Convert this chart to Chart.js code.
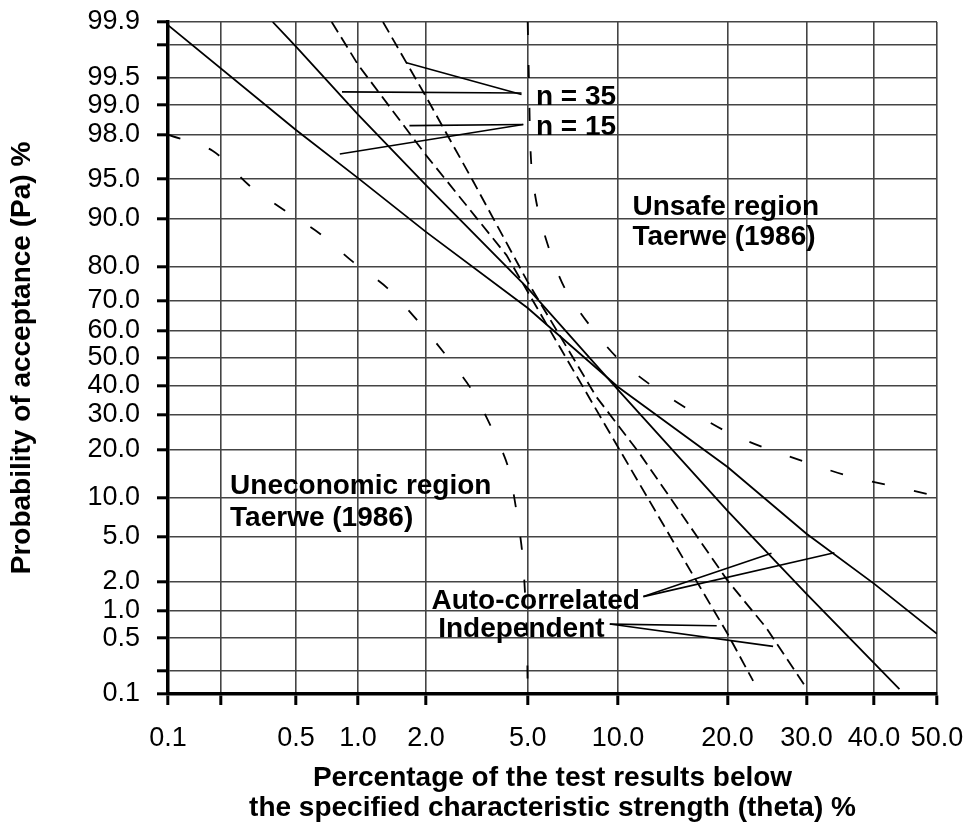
<!DOCTYPE html>
<html>
<head>
<meta charset="utf-8">
<script src="https://cdn.jsdelivr.net/npm/chart.js@4.4.1/dist/chart.umd.min.js"></script>
<style>
  html, body { margin: 0; padding: 0; background: #fff; }
  #wrap { width: 968px; height: 827px; }
</style>
</head>
<body>
<div id="wrap"><canvas id="chart" width="968" height="827"></canvas></div>
<script>
// OC curves on normal probability paper (both axes in %)

const xTicks = [0.1, 0.2, 0.5, 1, 2, 5, 10, 20, 30, 40, 50];
const yTicks = [0.1, 0.2, 0.5, 1, 2, 5, 10, 20, 30, 40, 50, 60, 70, 80, 90, 95, 98, 99, 99.5, 99.8, 99.9];
const unlabelled = [0.2, 99.8];

// auto-correlated (solid)
const autoN15X = [0.1, 0.5, 1, 2, 5, 10, 20, 30, 40, 50];
const autoN15Y = [99.89, 98.2, 95.1, 87.7, 67.7, 39.5, 15.8, 5.3, 1.9, 0.56];
const autoN35X = [0.38, 0.5, 1, 2, 5, 10, 20, 30, 44];
const autoN35Y = [99.9, 99.79, 98.74, 94.4, 74, 38.5, 8.0, 1.5, 0.116];

// independent (dashed)
const indN15X = [0.75, 1, 2, 4.18, 6.47, 10, 14.4, 20, 23];
const indN15Y = [99.9, 99.65, 96.9, 82.8, 54.1, 20.6, 4.66, 0.56, 0.149];
const indN35X = [1.3, 2, 3.12, 5, 8.56, 11.6, 20, 24.6, 30];
const indN35Y = [99.9, 99.19, 94.77, 75.8, 36.0, 19.0, 2.03, 0.66, 0.12];

// Taerwe (1986) region boundaries (long dashes)
const uneconX = [0.1, 0.18, 0.285, 0.44, 0.65, 0.95, 1.36, 1.85, 2.37, 3.05, 3.65, 4.22, 4.53, 4.77, 4.89, 4.97, 5.0];
const uneconY = [98.0, 97.17, 94.4, 91.2, 87.5, 81.1, 74.0, 63.3, 52.1, 39.0, 26.5, 16.2, 8.46, 3.83, 1.54, 0.5, 0.1];
const unsafeX = [5.0, 5.05, 5.15, 5.41, 5.94, 6.73, 8.09, 9.97, 12.4, 15.7, 19.6, 24.2, 29.6, 35.8, 42.3, 50];
const unsafeY = [99.9, 99.5, 96.3, 91.8, 84.4, 74.0, 62.2, 49.9, 40.5, 32.2, 25.3, 20.6, 17.1, 14.0, 12.1, 10.2];

// leader lines from the labels: [x, y] pairs
const leaders = [
  [[1.65, 99.67], [4.75, 99.23]],
  [[0.84, 99.28], [4.75, 99.26]],
  [[1.70, 98.37], [4.82, 98.41]],
  [[0.82, 96.97], [4.82, 98.41]],
  [[11.9, 1.41], [25.3, 3.62]],
  [[11.9, 1.41], [34.0, 3.67]],
  [[9.43, 0.72], [18.8, 0.69]],
  [[9.43, 0.72], [25.5, 0.40]]
];

const notes = [
  { text: 'n = 35', x: 5.35, y: 99.01 },
  { text: 'n = 15', x: 5.35, y: 98.0 },
  { text: 'Unsafe region', x: 11.05, y: 90.6 },
  { text: 'Taerwe (1986)', x: 11.05, y: 85.1 },
  { text: 'Uneconomic region', x: 0.225, y: 10.6 },
  { text: 'Taerwe (1986)', x: 0.225, y: 6.17 },
  { text: 'Auto-correlated', x: 2.11, y: 1.05 },
  { text: 'Independent', x: 2.25, y: 0.51 }
];

function probit(p) {
  const a = [-3.969683028665376e+01, 2.209460984245205e+02, -2.759285104469687e+02, 1.383577518672690e+02, -3.066479806614716e+01, 2.506628277459239e+00];
  const b = [-5.447609879822406e+01, 1.615858368580409e+02, -1.556989798598866e+02, 6.680131188771972e+01, -1.328068155288572e+01];
  const c = [-7.784894002430293e-03, -3.223964580411365e-01, -2.400758277161838e+00, -2.549732539343734e+00, 4.374664141464968e+00, 2.938163982698783e+00];
  const d = [7.784695709041462e-03, 3.224671290700398e-01, 2.445134137142996e+00, 3.754408661907416e+00];
  const plow = 0.02425;
  let q, r;
  if (p < plow) {
    q = Math.sqrt(-2 * Math.log(p));
    return (((((c[0]*q+c[1])*q+c[2])*q+c[3])*q+c[4])*q+c[5]) / ((((d[0]*q+d[1])*q+d[2])*q+d[3])*q+1);
  }
  if (p > 1 - plow) {
    q = Math.sqrt(-2 * Math.log(1 - p));
    return -(((((c[0]*q+c[1])*q+c[2])*q+c[3])*q+c[4])*q+c[5]) / ((((d[0]*q+d[1])*q+d[2])*q+d[3])*q+1);
  }
  q = p - 0.5;
  r = q * q;
  return (((((a[0]*r+a[1])*r+a[2])*r+a[3])*r+a[4])*r+a[5])*q / (((((b[0]*r+b[1])*r+b[2])*r+b[3])*r+b[4])*r+1);
}

function normCdf(z) {
  const t = 1 / (1 + 0.3275911 * Math.abs(z) / Math.SQRT2);
  const y = 1 - (((((1.061405429*t - 1.453152027)*t) + 1.421413741)*t - 0.284496736)*t + 0.254829592)*t * Math.exp(-z*z/2);
  return z >= 0 ? 0.5 * (1 + y) : 0.5 * (1 - y);
}

class ProbitScale extends Chart.Scale {
  determineDataLimits() {
    this.min = this.options.min;
    this.max = this.options.max;
  }
  buildTicks() {
    return this.options.tickValues.map(v => ({ value: v }));
  }
  configure() {
    super.configure();
    this._zStart = probit(this.min / 100);
    this._zRange = probit(this.max / 100) - this._zStart;
  }
  getLabelForValue(v) { return String(v); }
  getPixelForValue(v) {
    return this.getPixelForDecimal((probit(v / 100) - this._zStart) / this._zRange);
  }
  getPixelForTick(i) {
    return this.getPixelForValue(this.ticks[i].value);
  }
  getValueForPixel(px) {
    return 100 * normCdf(this._zStart + this.getDecimalForPixel(px) * this._zRange);
  }
}
ProbitScale.id = 'probit';
ProbitScale.defaults = {};
Chart.register(ProbitScale);

const pts = (xs, ys) => xs.map((x, i) => ({ x, y: ys[i] }));
const family = '"Liberation Sans", Arial, sans-serif';
Chart.defaults.font.family = family;
Chart.defaults.color = '#000';

const datasets = [
  { data: pts(autoN15X, autoN15Y), borderWidth: 1.8 },
  { data: pts(autoN35X, autoN35Y), borderWidth: 1.8 },
  { data: pts(indN15X, indN15Y), borderWidth: 1.8, borderDash: [12, 6] },
  { data: pts(indN35X, indN35Y), borderWidth: 1.8, borderDash: [12, 6] },
  { data: pts(uneconX, uneconY), borderWidth: 1.8, borderDash: [13, 30], tension: 0.3 },
  { data: pts(unsafeX, unsafeY), borderWidth: 1.8, borderDash: [13, 30], tension: 0.3 }
].concat(leaders.map(l => ({ data: l.map(p => ({ x: p[0], y: p[1] })), borderWidth: 1.6 })));

datasets.forEach(ds => {
  ds.borderColor = '#000';
  ds.pointRadius = 0;
  ds.fill = false;
  if (ds.tension === undefined) ds.tension = 0;
});

const notesPlugin = {
  id: 'notes',
  afterDatasetsDraw(chart) {
    const { ctx, scales: { x, y } } = chart;
    ctx.save();
    ctx.fillStyle = '#000';
    ctx.font = 'bold 28px ' + family;
    ctx.textAlign = 'left';
    ctx.textBaseline = 'alphabetic';
    notes.forEach(n => ctx.fillText(n.text, x.getPixelForValue(n.x), y.getPixelForValue(n.y)));
    ctx.restore();
  }
};

const tickLabel = v => unlabelled.includes(v) ? '' : v.toFixed(1);
const gridStyle = { color: '#444', lineWidth: 1.6, tickColor: '#000', tickWidth: 3, tickLength: 11 };

new Chart(document.getElementById('chart'), {
  type: 'line',
  data: { datasets },
  plugins: [notesPlugin],
  options: {
    responsive: false,
    animation: false,
    layout: { padding: { left: 0, top: 22, right: 31, bottom: 0 } },
    plugins: { legend: { display: false }, tooltip: { enabled: false } },
    scales: {
      x: {
        type: 'probit',
        position: 'bottom',
        min: 0.1,
        max: 50,
        tickValues: xTicks,
        grid: gridStyle,
        border: { color: '#000', width: 3.5 },
        ticks: { callback: tickLabel, autoSkip: false, maxRotation: 0, padding: 17, font: { size: 27 } },
        title: {
          display: true,
          text: ['Percentage of the test results below', 'the specified characteristic strength (theta) %'],
          font: { size: 28, weight: 'bold', lineHeight: 1.1 },
          padding: { top: 0, bottom: 3 }
        },
        afterFit: s => {
          s.height = 133;
          s.paddingLeft = 0;
          s.paddingRight = 0;
        }
      },
      y: {
        type: 'probit',
        position: 'left',
        min: 0.1,
        max: 99.9,
        tickValues: yTicks,
        grid: gridStyle,
        border: { color: '#000', width: 3.5 },
        ticks: { callback: tickLabel, autoSkip: false, padding: 17, font: { size: 27 } },
        title: {
          display: true,
          text: 'Probability of acceptance (Pa) %',
          font: { size: 28, weight: 'bold', lineHeight: 1.1 },
          padding: { top: 7, bottom: 0 }
        },
        afterFit: s => {
          s.width = 168;
          s.paddingTop = 0;
          s.paddingBottom = 0;
        }
      }
    }
  }
});
</script>
</body>
</html>
